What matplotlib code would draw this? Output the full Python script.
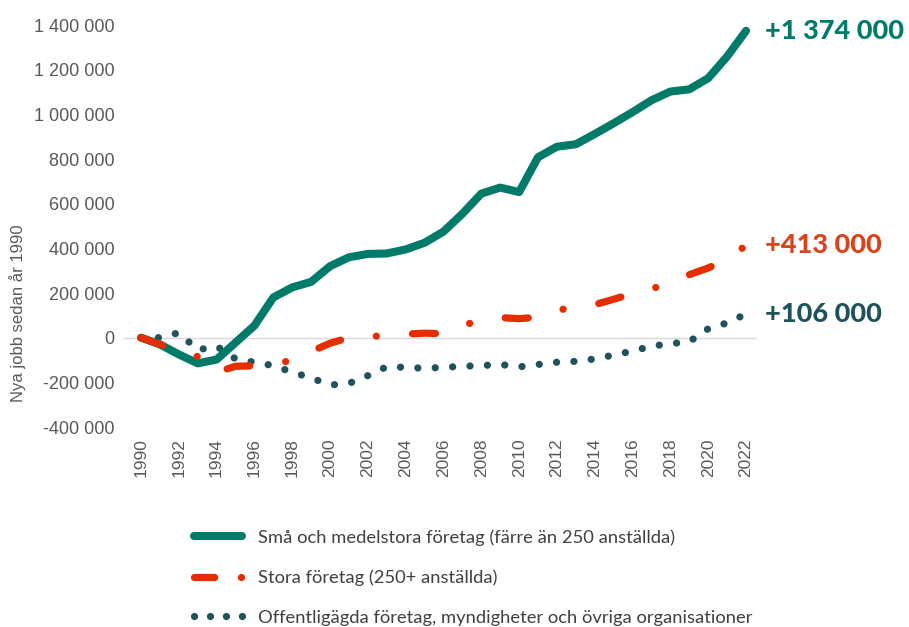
#!/usr/bin/env python3
"""
Nya jobb sedan 1990, per typ av arbetsgivare.
"""

import matplotlib
matplotlib.use('Agg')
import matplotlib.pyplot as plt
import matplotlib.ticker as mtick
from matplotlib.lines import Line2D

# === DATA ===
years = list(range(1990, 2023))

# Små och medelstora företag (färre än 250 anställda)
sme = [0, -30000, -75000, -115000, -98000, -22000, 54000, 180000, 225000, 250000,
       320000, 360000, 375000, 377000, 395000, 425000, 475000, 555000, 645000, 672000,
       652000, 808000, 855000, 866000, 912000, 960000, 1010000, 1063000, 1102000, 1112000,
       1162000, 1259000, 1374000]

# Stora företag (250+ anställda)
large = [0, -30000, -60000, -85000, -155000, -128000, -126000, -115000, -103000, -62000,
         -25000, 0, 4000, 10000, 16000, 20000, 18000, 55000, 78000, 90000,
         85000, 92000, 122000, 138000, 148000, 172000, 198000, 218000, 248000, 282000,
         312000, 352000, 413000]

# Offentligägda företag, myndigheter och övriga organisationer
public = [0, 0, 22000, -55000, -38000, -95000, -110000, -125000, -155000, -180000,
          -212000, -205000, -170000, -130000, -133000, -137000, -133000, -128000, -125000, -120000,
          -131000, -120000, -110000, -106000, -95000, -78000, -60000, -38000, -27000, -18000,
          40000, 66000, 106000]

labels = ['Små och medelstora företag (färre än 250 anställda)',
          'Stora företag (250+ anställda)',
          'Offentligägda företag, myndigheter och övriga organisationer']
end_labels = ['+1 374 000', '+413 000', '+106 000']

GREEN = '#007a69'
RED = '#e52d00'
RED_TXT = '#d8441c'
DARK = '#1f525b'
GRAY = '#595959'

# === FIGURE ===
fig = plt.figure(figsize=(9.09, 6.27), dpi=100)
W, H = 909, 627
ax = fig.add_axes([123 / W, 1 - 427 / H, (757 - 123) / W, (427 - 25) / H])

ax.axhline(0, color='#d9d9d9', linewidth=1, zorder=1)

l1, = ax.plot(years, sme, color=GREEN, linewidth=5.8, solid_capstyle='round',
              solid_joinstyle='round', clip_on=False, zorder=3)
l2, = ax.plot(years, large, color=RED, linewidth=5.2, linestyle=(0, (3.2, 5.0, 0.01, 5.0)),
              dash_capstyle='round', clip_on=False, zorder=3)
l3, = ax.plot(years, public, color=DARK, linewidth=5.2, linestyle=(0, (0.01, 2.4)),
              dash_capstyle='round', clip_on=False, zorder=2)

ax.set_xlim(1989.05, 2022.58)
ax.set_ylim(-400000, 1400000)
ax.set_xticks(years[::2])
ax.set_xticklabels([str(y) for y in years[::2]], rotation=90)
ax.set_yticks(range(-400000, 1400001, 200000))
ax.yaxis.set_major_formatter(mtick.FuncFormatter(lambda v, p: f'{int(v):,}'.replace(',', ' ')))

for s in ax.spines.values():
    s.set_visible(False)
ax.tick_params(length=0, labelcolor=GRAY, labelfontfamily='Liberation Sans')
ax.tick_params(axis='x', pad=8, labelsize=12.5)
ax.tick_params(axis='y', pad=6, labelsize=13)
ax.set_ylabel('Nya jobb sedan år 1990', fontsize=12, color=GRAY, family='Liberation Sans')
ax.yaxis.set_label_coords(26 / W, 0.5, transform=fig.transFigure)

# end labels
for series, txt, col in zip([sme, large, public], end_labels, [GREEN, RED_TXT, DARK]):
    ax.annotate(txt, xy=(years[-1], series[-1]), xytext=(765, 0),
                textcoords=('figure pixels', 'offset pixels'), va='center', ha='left',
                fontsize=19.5, fontweight='black', family='Lato', color=col)

# legend below the chart (handles styled like the lines, shorter red pattern)
handles = [
    Line2D([], [], color=GREEN, linewidth=5.8, solid_capstyle='round'),
    Line2D([], [], color=RED, linewidth=5.2, linestyle=(0, (2.8, 3.7, 0.01, 5)),
           dash_capstyle='round'),
    Line2D([], [], color=DARK, linewidth=5.2, linestyle=(0, (0.01, 2.2)),
           dash_capstyle='round'),
]
leg = fig.legend(handles=handles, labels=labels, loc='upper left',
                 bbox_to_anchor=(193.5 / W, 1 - 529 / H), borderaxespad=0,
                 frameon=False, fontsize=13.2, handlelength=2.66, handletextpad=0.88,
                 labelspacing=1.3, borderpad=0)
for t in leg.get_texts():
    t.set_family('Lato')
    t.set_color('#404040')

fig.savefig('out.png', dpi=100, facecolor='white')
